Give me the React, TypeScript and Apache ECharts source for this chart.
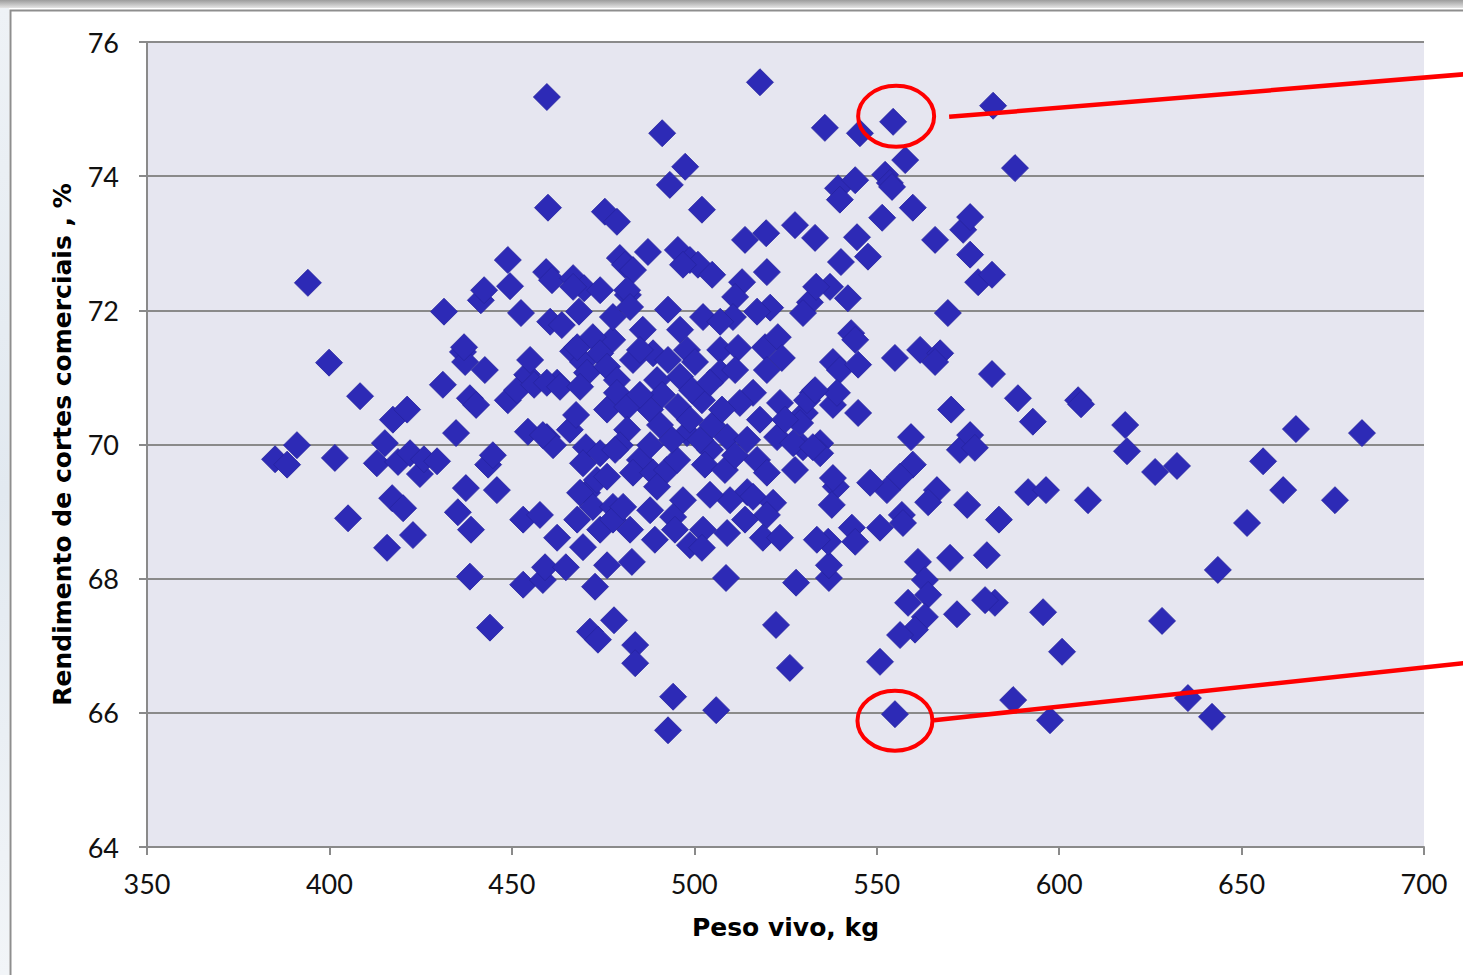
import React, { useEffect, useRef } from 'react';
import * as echarts from 'echarts';

// Eixos
const xTicks = [350, 400, 450, 500, 550, 600, 650, 700];
const yTicks = [64, 66, 68, 70, 72, 74, 76];

// Peso vivo (kg), Rendimento de cortes comerciais (%)
const amostras: [number, number][] = [
  [385.1, 69.78], [388.4, 69.70], [391.1, 69.99], [394.1, 72.41], [399.9, 71.22], [401.5, 69.80],
  [405.1, 68.90], [408.4, 70.72], [413.0, 69.72], [415.2, 70.02], [415.8, 68.46], [417.4, 70.37],
  [417.2, 69.20], [418.8, 69.74], [420.2, 69.05], [421.3, 70.52], [422.1, 69.87], [422.9, 68.65],
  [424.8, 69.56], [425.9, 69.78], [429.5, 69.75], [431.4, 71.98], [431.1, 70.89], [434.7, 70.17],
  [435.2, 68.99], [436.6, 71.38], [437.2, 71.23], [437.4, 69.35], [438.5, 70.69], [438.8, 68.73],
  [438.5, 68.03], [440.2, 70.59], [441.5, 72.15], [442.4, 72.30], [442.6, 71.11], [443.5, 69.70],
  [444.8, 69.84], [444.0, 67.27], [445.9, 69.32], [448.9, 72.75], [449.5, 72.36], [448.9, 70.66],
  [451.4, 70.81], [452.5, 71.96], [453.1, 68.88], [453.1, 67.91], [454.2, 71.04], [455.0, 71.26],
  [454.4, 70.19], [456.1, 70.89], [457.7, 68.95], [458.5, 67.98], [459.1, 68.17], [459.6, 75.18],
  [459.9, 73.53], [459.4, 72.57], [460.5, 71.83], [461.0, 72.45], [459.6, 70.11], [461.3, 69.99],
  [462.4, 68.61], [462.4, 70.92], [463.7, 71.78], [464.8, 68.17], [465.9, 70.22], [466.8, 72.48],
  [466.8, 71.39], [467.6, 70.44], [468.4, 71.98], [469.5, 71.23], [469.8, 72.33], [470.6, 69.28],
  [470.3, 69.96], [471.4, 67.21], [472.8, 67.88], [473.6, 67.09], [474.2, 72.30], [475.5, 73.47],
  [476.1, 68.20], [477.5, 71.56], [478.0, 67.38], [478.8, 73.32], [479.6, 72.78], [481.0, 72.68],
  [482.4, 68.73], [481.8, 72.23], [482.9, 68.25], [483.8, 67.01], [483.8, 66.74], [487.3, 72.87],
  [491.2, 74.64], [493.3, 73.87], [494.2, 66.24], [492.8, 65.74], [497.5, 74.14], [495.5, 72.90],
  [498.8, 72.75], [501.0, 72.68], [502.1, 73.50], [504.9, 72.53], [506.0, 66.04], [508.7, 68.01],
  [513.9, 73.05], [518.0, 75.40], [519.7, 73.15], [519.9, 72.57], [522.4, 67.31], [526.2, 66.67],
  [527.9, 67.94], [527.6, 73.27], [533.1, 73.08], [535.8, 74.72], [536.9, 68.01], [536.9, 68.20],
  [537.2, 72.35], [539.4, 73.82], [540.2, 72.72], [542.1, 72.18], [544.1, 73.94], [544.6, 73.09],
  [545.4, 74.64], [547.6, 72.80], [551.5, 73.38], [550.9, 66.76], [552.3, 74.02], [553.6, 73.90],
  [554.5, 74.81], [555.0, 65.98], [557.8, 74.24], [559.9, 73.53], [566.0, 73.05], [569.5, 71.96],
  [573.7, 73.20], [575.6, 73.39], [575.6, 72.83], [577.8, 72.42], [581.6, 72.53], [581.9, 75.05],
  [587.9, 74.12], [597.5, 65.89], [595.6, 67.50], [600.8, 66.91], [587.4, 66.19], [582.4, 67.64],
  [579.7, 67.68], [580.2, 68.35], [583.5, 68.88], [572.0, 67.47], [570.1, 68.31], [574.8, 69.10],
  [566.5, 69.32], [564.1, 69.14], [581.6, 71.05], [588.7, 70.69], [592.8, 70.34], [591.5, 69.29],
  [596.4, 69.32], [605.2, 70.66], [606.0, 70.60], [607.9, 69.17], [618.1, 70.29], [618.6, 69.90],
  [626.3, 69.59], [632.3, 69.68], [628.2, 67.37], [635.3, 66.22], [641.9, 65.94], [643.5, 68.13],
  [651.5, 68.83], [655.9, 69.75], [661.4, 69.32], [664.9, 70.23], [675.6, 69.17], [683.0, 70.17],
  [561.9, 71.41], [570.4, 70.52], [572.8, 69.92], [575.6, 70.14], [576.9, 69.95], [559.4, 70.11],
  [559.9, 69.70], [556.4, 69.52], [552.8, 69.32], [548.2, 69.43], [538.8, 69.37], [538.0, 69.50],
  [537.7, 69.10], [543.2, 68.76], [544.1, 68.55], [536.7, 68.55], [550.9, 68.76], [556.9, 68.95],
  [557.2, 68.83], [561.3, 68.25], [563.2, 67.98], [564.1, 67.76], [558.6, 67.64], [563.2, 67.43],
  [560.5, 67.24], [556.4, 67.16], [534.5, 70.02], [534.5, 69.87], [530.3, 70.47], [538.0, 70.59],
  [544.9, 70.47], [529.8, 69.96], [543.0, 71.66], [544.1, 71.56], [538.0, 71.23], [539.9, 71.11],
  [544.9, 71.19], [555.0, 71.29], [567.4, 71.36], [566.0, 71.23], [532.5, 70.77], [539.1, 70.77],
  [531.7, 72.12], [529.8, 71.96], [539.9, 73.65], [554.2, 73.84], [533.4, 72.35], [466.8, 72.35],
  [477.7, 71.90], [436.9, 71.45], [459.6, 70.92], [463.2, 70.86], [467.9, 71.45], [472.2, 71.60],
  [474.2, 71.36], [470.6, 71.07], [468.7, 70.86], [476.1, 71.16], [478.8, 70.96], [476.1, 70.52],
  [478.8, 70.77], [496.9, 72.68], [513.1, 72.42], [511.2, 72.20], [520.8, 72.04], [517.2, 71.98],
  [510.6, 71.90], [502.4, 71.90], [492.8, 72.01], [483.2, 72.60], [481.6, 72.30], [482.4, 72.05],
  [485.9, 71.71], [496.1, 71.71], [488.7, 71.36], [483.2, 71.26], [498.0, 71.41], [500.2, 71.23],
  [496.1, 71.01], [489.8, 70.96], [507.1, 71.41], [512.0, 71.44], [507.1, 71.07], [511.2, 71.11],
  [519.4, 71.45], [522.9, 71.60], [524.0, 71.29], [519.9, 71.11], [516.1, 70.77], [512.5, 70.62],
  [502.1, 70.66], [495.5, 70.56], [487.9, 70.52], [481.6, 70.56], [523.5, 70.62], [530.9, 70.66],
  [533.1, 70.81], [458.5, 70.14], [469.5, 69.72], [474.2, 69.87], [468.7, 69.28], [473.3, 69.47],
  [476.1, 69.52], [472.2, 69.07], [467.9, 68.88], [474.2, 68.73], [469.5, 68.47], [477.7, 69.07],
  [477.7, 68.88], [481.6, 70.22], [485.1, 69.77], [483.2, 69.58], [488.7, 69.58], [492.5, 69.62],
  [489.8, 69.37], [495.3, 69.77], [498.0, 70.17], [504.3, 69.92], [509.0, 70.11], [514.5, 70.07],
  [517.2, 69.77], [519.9, 69.58], [522.7, 70.11], [527.1, 70.02], [529.0, 70.32], [532.5, 69.96],
  [480.5, 69.07], [487.9, 69.02], [496.9, 69.17], [494.2, 68.92], [494.7, 68.73], [498.8, 68.50],
  [502.4, 68.73], [509.0, 68.68], [502.1, 68.46], [514.5, 69.29], [516.1, 69.22], [521.6, 69.13],
  [519.9, 68.95], [518.8, 68.61], [523.5, 68.61], [533.6, 68.58], [490.6, 70.29], [493.9, 70.07],
  [498.8, 70.37], [501.6, 70.07], [504.9, 70.29], [507.6, 70.52], [491.2, 70.74], [499.4, 70.81],
  [492.8, 71.26], [504.3, 70.92], [487.9, 69.99], [479.6, 69.99], [485.1, 70.74], [502.9, 69.70],
  [508.4, 69.62], [511.2, 69.84], [518.0, 70.37], [524.9, 70.37], [527.6, 69.62], [513.9, 68.88],
  [509.8, 69.17], [504.3, 69.25], [489.2, 68.58], [507.1, 71.83], [485.1, 71.41], [478.3, 69.92],
];

// Pontos destacados com círculos vermelhos
const destacados: [number, number][] = [
  [554.5, 74.81],
  [555.0, 65.98],
];

const FONT = 'Lato';
const TITLE_FONT = 'DejaVu Sans';

export default function App() {
  const ref = useRef<HTMLDivElement>(null);

  useEffect(() => {
    const chart = echarts.init(ref.current as HTMLDivElement, null, { renderer: 'svg' });
    chart.setOption({
      animation: false,
      backgroundColor: '#ffffff',
      grid: {
        left: 147,
        right: 39,
        top: 42,
        bottom: 128,
        show: true,
        backgroundColor: '#E6E6F0',
        borderWidth: 0,
      },
      xAxis: {
        type: 'value',
        min: xTicks[0],
        max: xTicks[xTicks.length - 1],
        interval: 50,
        name: 'Peso vivo, kg',
        nameLocation: 'middle',
        nameGap: 68,
        nameTextStyle: { fontFamily: TITLE_FONT, fontWeight: 'bold', fontSize: 25, color: '#000' },
        axisLine: { show: true, lineStyle: { color: '#8a8a8a', width: 2 } },
        axisTick: { show: true, length: 8, lineStyle: { color: '#8a8a8a', width: 2 } },
        axisLabel: { fontFamily: FONT, fontSize: 27, color: '#111', margin: 23 },
        splitLine: { show: false },
      },
      yAxis: {
        type: 'value',
        min: yTicks[0],
        max: yTicks[yTicks.length - 1],
        interval: 2,
        name: 'Rendimento de cortes comerciais , %',
        nameLocation: 'middle',
        nameGap: 72,
        nameTextStyle: { fontFamily: TITLE_FONT, fontWeight: 'bold', fontSize: 25, color: '#000' },
        axisLine: { show: true, lineStyle: { color: '#8a8a8a', width: 2 } },
        axisTick: { show: true, length: 8, lineStyle: { color: '#8a8a8a', width: 2 } },
        axisLabel: { fontFamily: FONT, fontSize: 27, color: '#111', margin: 28 },
        splitLine: { show: true, lineStyle: { color: '#8a8a8a', width: 2 } },
      },
      series: [
        {
          type: 'scatter',
          symbol: 'diamond',
          symbolSize: 27,
          data: amostras,
          itemStyle: { color: '#2D2AB6', borderColor: '#26239F', borderWidth: 0.8, opacity: 1 },
          z: 3,
        },
      ],
    });

    const px = destacados.map((p) => chart.convertToPixel({ seriesIndex: 0 }, p) as number[]);
    const top = px[0];
    const bot = px[1];

    chart.setOption({
      graphic: [
        {
          type: 'rect',
          shape: { x: 0, y: 0, width: 1463, height: 8 },
          style: {
            fill: new echarts.graphic.LinearGradient(0, 0, 0, 1, [
              { offset: 0, color: '#9c9c9c' },
              { offset: 1, color: '#e4e4e4' },
            ]),
          },
          silent: true,
          z: 0,
        },
        {
          type: 'rect',
          shape: { x: 0, y: 8, width: 9, height: 967 },
          style: {
            fill: new echarts.graphic.LinearGradient(0, 0, 0, 1, [
              { offset: 0, color: '#eef2f6' },
              { offset: 0.5, color: '#e2e9f0' },
              { offset: 1, color: '#f2f5f8' },
            ]),
          },
          silent: true,
          z: 0,
        },
        {
          type: 'polyline',
          shape: { points: [[10.5, 975], [10.5, 10.5], [1463, 10.5]] },
          style: { stroke: '#8e8e8e', lineWidth: 2, fill: 'none' },
          silent: true,
          z: 0,
        },
        {
          type: 'ellipse',
          shape: { cx: top[0] + 3, cy: top[1] - 5.5, rx: 38, ry: 30.5 },
          style: { fill: 'none', stroke: '#FF0000', lineWidth: 4 },
          silent: true,
          z: 10,
        },
        {
          type: 'ellipse',
          shape: { cx: bot[0], cy: bot[1] + 6.5, rx: 37.5, ry: 30 },
          style: { fill: 'none', stroke: '#FF0000', lineWidth: 4 },
          silent: true,
          z: 10,
        },
        {
          type: 'line',
          shape: { x1: top[0] + 56, y1: top[1] - 5, x2: top[0] + 608, y2: top[1] - 50.6 },
          style: { stroke: '#FF0000', lineWidth: 4.5 },
          silent: true,
          z: 10,
        },
        {
          type: 'line',
          shape: { x1: bot[0] + 39, y1: bot[1] + 6, x2: bot[0] + 605, y2: bot[1] - 55 },
          style: { stroke: '#FF0000', lineWidth: 4.5 },
          silent: true,
          z: 10,
        },
      ],
    });

    return () => chart.dispose();
  }, []);

  return (
    <div
      ref={ref}
      style={{ position: 'fixed', left: 0, top: 0, width: 1463, height: 975 }}
    />
  );
}
